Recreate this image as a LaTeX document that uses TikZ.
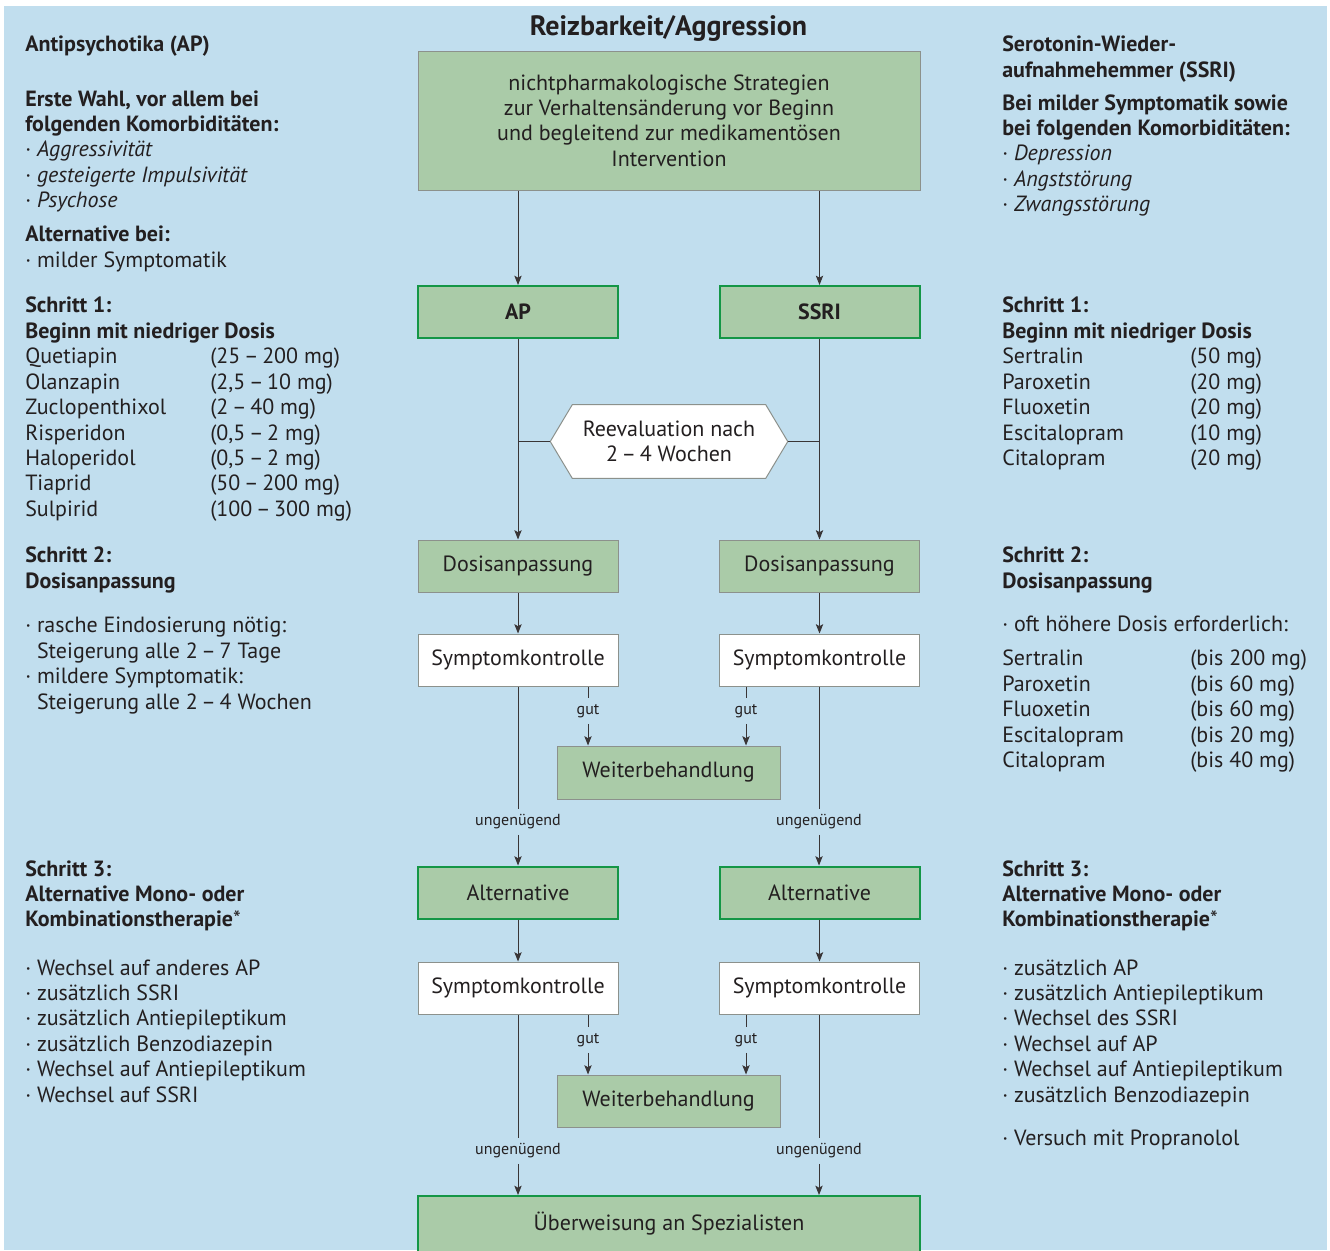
\documentclass[tikz,border=0pt]{standalone}
\usepackage{fontspec}
\setmainfont{PT Sans}
\usetikzlibrary{arrows.meta,calc}
\definecolor{bgblue}{RGB}{193,222,238}
\definecolor{gfill}{RGB}{170,203,168}
\definecolor{gline}{RGB}{20,150,70}
\definecolor{bline}{RGB}{140,145,140}
\definecolor{ink}{RGB}{35,31,32}
\newcommand\bodyfont{\fontsize{16.5}{19.1}\selectfont}
\newcommand\tb[1]{\begin{tabular}[t]{@{}l@{}}#1\end{tabular}}
\begin{document}
\begin{tikzpicture}[x=0.75pt,y=-0.75pt,
  every node/.style={text=ink},
  txt/.style={anchor=base west, inner sep=0pt, font=\bodyfont},
  gbox/.style={rectangle, fill=gfill, draw=gline, line width=1.5pt, minimum width=150pt, minimum height=39pt, inner sep=0pt, font=\bodyfont},
  dbox/.style={rectangle, fill=gfill, draw=bline, line width=0.75pt, minimum width=150pt, minimum height=39pt, inner sep=0pt, font=\bodyfont},
  wbox/.style={rectangle, fill=white, draw=bline, line width=0.75pt, minimum width=150pt, minimum height=39pt, inner sep=0pt, font=\bodyfont},
  lab/.style={inner sep=0pt, minimum height=18.75pt, font=\fontsize{12}{14}\selectfont},
  ln/.style={draw=ink!90, line width=0.75pt},
  arr/.style={ln, -{Stealth[length=7pt,width=5.5pt,inset=1.5pt]}}]
\fill[bgblue] (4,6) rectangle (1327,1250);
\useasboundingbox (0,0) rectangle (1330,1245);

% title
\node[anchor=base, inner sep=0pt, font=\fontsize{21}{24}\selectfont\bfseries] (title) at (668.5,35) {Reizbarkeit/Aggression};

% central flow
\node[dbox, minimum width=376.5pt, minimum height=104.25pt, align=center] (top) at (669,120.5)
  {nichtpharmakologische Strategien\\zur Verhaltensänderung vor Beginn\\und begleitend zur medikamentösen\\Intervention};
\node[gbox] (ap) at (518,312) {\textbf{AP}};
\node[gbox] (ssri) at (819.5,312) {\textbf{SSRI}};
\node[inner sep=0pt, minimum width=144.75pt, minimum height=54.75pt, align=center, font=\bodyfont] (rev) at (669,441.5) {Reevaluation nach\\2\,–\,4 Wochen};
\coordinate (revL) at ($(rev.west)+(-16.5pt,0)$);
\coordinate (revR) at ($(rev.east)+(16.5pt,0)$);
\draw[fill=white, draw=bline, line width=0.75pt] (rev.north west) -- (rev.north east) -- (revR) -- (rev.south east) -- (rev.south west) -- (revL) -- cycle;
\node[inner sep=0pt, align=center, font=\bodyfont] at (rev) {Reevaluation nach\\2\,–\,4 Wochen};

\node[dbox] (dosL) at (518,566) {Dosisanpassung};
\node[dbox] (dosR) at (819.5,566) {Dosisanpassung};
\node[wbox] (sk1L) at (518,660) {Symptomkontrolle};
\node[wbox] (sk1R) at (819.5,660) {Symptomkontrolle};
\node[dbox, minimum width=167.25pt, minimum height=39.75pt] (wb1) at (668.5,772.5) {Weiterbehandlung};
\node[gbox] (altL) at (518,892.5) {Alternative};
\node[gbox] (altR) at (819.5,892.5) {Alternative};
\node[wbox] (sk2L) at (518,988) {Symptomkontrolle};
\node[wbox] (sk2R) at (819.5,988) {Symptomkontrolle};
\node[dbox, minimum width=167.25pt, minimum height=39pt] (wb2) at (668.5,1101) {Weiterbehandlung};
\node[gbox, minimum width=376.5pt, minimum height=42pt] (ueb) at (669,1224) {\raisebox{2pt}{Überweisung an Spezialisten}};

% labels
\node[lab] (g1L) at (588,711) {gut};
\node[lab] (g1R) at (746,711) {gut};
\node[lab] (u1L) at (518,822) {ungenügend};
\node[lab] (u1R) at (819,822) {ungenügend};
\node[lab] (g2L) at (588,1040) {gut};
\node[lab] (g2R) at (746,1040) {gut};
\node[lab] (u2L) at (518,1151) {ungenügend};
\node[lab] (u2R) at (819,1151) {ungenügend};

% connectors
\draw[arr] (top.south -| ap) -- (ap.north);
\draw[arr] (top.south -| ssri) -- (ssri.north);
\draw[arr] (ap.south) -- (dosL.north);
\draw[arr] (ssri.south) -- (dosR.north);
\draw[ln] (revL) -- (revL -| ap);
\draw[ln] (revR) -- (revR -| ssri);
\draw[arr] (dosL.south) -- (sk1L.north);
\draw[arr] (dosR.south) -- (sk1R.north);
\draw[ln] (sk1L.south -| g1L) -- (g1L.north);
\draw[arr] (g1L.south) -- (wb1.north -| g1L);
\draw[ln] (sk1R.south -| g1R) -- (g1R.north);
\draw[arr] (g1R.south) -- (wb1.north -| g1R);
\draw[ln] (sk1L.south) -- (u1L.north);
\draw[arr] (u1L.south) -- (altL.north);
\draw[ln] (sk1R.south -| u1R) -- (u1R.north);
\draw[arr] (u1R.south) -- (altR.north -| u1R);
\draw[arr] (altL.south) -- (sk2L.north);
\draw[arr] (altR.south) -- (sk2R.north);
\draw[ln] (sk2L.south -| g2L) -- (g2L.north);
\draw[arr] (g2L.south) -- (wb2.north -| g2L);
\draw[ln] (sk2R.south -| g2R) -- (g2R.north);
\draw[arr] (g2R.south) -- (wb2.north -| g2R);
\draw[ln] (sk2L.south) -- (u2L.north);
\draw[arr] (u2L.south) -- (ueb.north -| u2L);
\draw[ln] (sk2R.south -| u2R) -- (u2R.north);
\draw[arr] (u2R.south) -- (ueb.north -| u2R);

% left column
\node[txt] (lA) at (25,51.7) {\textbf{Antipsychotika (AP)}};
\node[txt] (lB) at (25,106) {\tb{\textbf{Erste Wahl, vor allem bei}\\\textbf{folgenden Komorbiditäten:}\\· \textit{Aggressivität}\\· \textit{gesteigerte Impulsivität}\\· \textit{Psychose}}};
\node[txt] (lC) at (25,241.7) {\tb{\textbf{Alternative bei:}\\· milder Symptomatik}};
\node[txt] (lD) at (25,312.7) {\tb{\textbf{Schritt 1:}\\\textbf{Beginn mit niedriger Dosis}\\Quetiapin\\Olanzapin\\Zuclopenthixol\\Risperidon\\Haloperidol\\Tiaprid\\Sulpirid}};
\node[txt] (lDd) at (210,363.6) {\tb{(25\,–\,200 mg)\\(2,5\,–\,10 mg)\\(2\,–\,40 mg)\\(0,5\,–\,2 mg)\\(0,5\,–\,2 mg)\\(50\,–\,200 mg)\\(100\,–\,300 mg)}};
\node[txt] (lE) at (25,562.7) {\tb{\textbf{Schritt 2:}\\\textbf{Dosisanpassung}}};
\node[txt] (lF) at (25,632.7) {\tb{· rasche Eindosierung nötig:\\\hphantom{· }Steigerung alle 2\,–\,7 Tage\\· mildere Symptomatik:\\\hphantom{· }Steigerung alle 2\,–\,4 Wochen}};
\node[txt] (lG) at (25,876) {\tb{\textbf{Schritt 3:}\\\textbf{Alternative Mono- oder}\\\textbf{Kombinationstherapie}*}};
\node[txt] (lH) at (25,975) {\tb{· Wechsel auf anderes AP\\· zusätzlich SSRI\\· zusätzlich Antiepileptikum\\· zusätzlich Benzodiazepin\\· Wechsel auf Antiepileptikum\\· Wechsel auf SSRI}};

% right column
\node[txt] (rA) at (1002,51.7) {\tb{\textbf{Serotonin-Wieder-}\\\textbf{aufnahmehemmer (SSRI)}}};
\node[txt] (rB) at (1002,110) {\tb{\textbf{Bei milder Symptomatik sowie}\\\textbf{bei folgenden Komorbiditäten:}\\· \textit{Depression}\\· \textit{Angststörung}\\· \textit{Zwangsstörung}}};
\node[txt] (rD) at (1002,312.7) {\tb{\textbf{Schritt 1:}\\\textbf{Beginn mit niedriger Dosis}\\Sertralin\\Paroxetin\\Fluoxetin\\Escitalopram\\Citalopram}};
\node[txt] (rDd) at (1190,363.6) {\tb{(50 mg)\\(20 mg)\\(20 mg)\\(10 mg)\\(20 mg)}};
\node[txt] (rE) at (1002,562.7) {\tb{\textbf{Schritt 2:}\\\textbf{Dosisanpassung}}};
\node[txt] (rF) at (1002,631.7) {· oft höhere Dosis erforderlich:};
\node[txt] (rG) at (1002,665.7) {\tb{Sertralin\\Paroxetin\\Fluoxetin\\Escitalopram\\Citalopram}};
\node[txt] (rGd) at (1190,665.7) {\tb{(bis 200 mg)\\(bis 60 mg)\\(bis 60 mg)\\(bis 20 mg)\\(bis 40 mg)}};
\node[txt] (rH) at (1002,876) {\tb{\textbf{Schritt 3:}\\\textbf{Alternative Mono- oder}\\\textbf{Kombinationstherapie}*}};
\node[txt] (rI) at (1002,975) {\tb{· zusätzlich AP\\· zusätzlich Antiepileptikum\\· Wechsel des SSRI\\· Wechsel auf AP\\· Wechsel auf Antiepileptikum\\· zusätzlich Benzodiazepin}};
\node[txt] (rJ) at (1002,1145) {· Versuch mit Propranolol};
\end{tikzpicture}
\end{document}
